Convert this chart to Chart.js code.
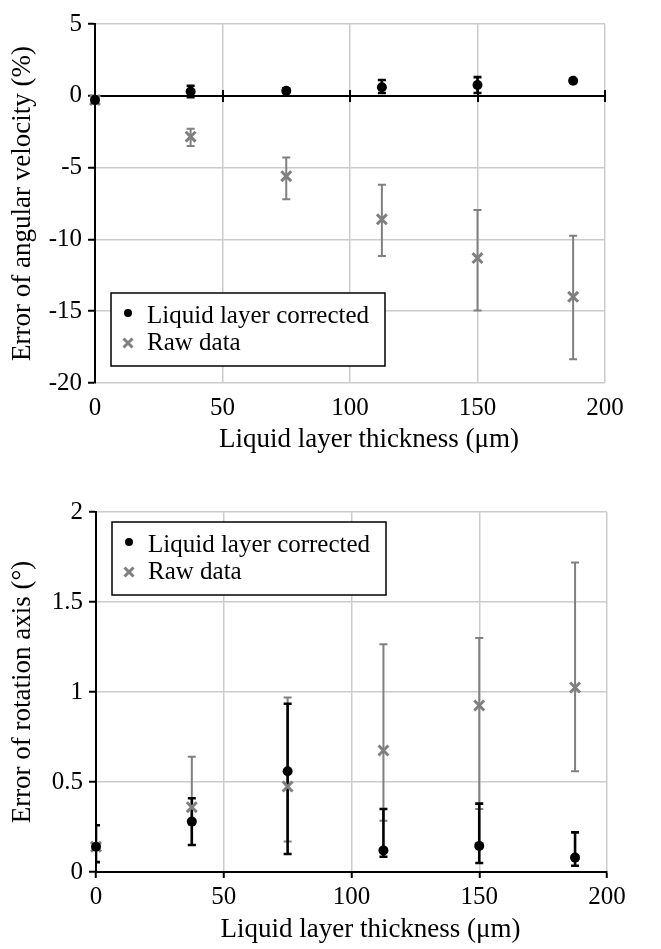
<!DOCTYPE html>
<html>
<head>
<meta charset="utf-8">
<script src="https://cdn.jsdelivr.net/npm/chart.js@4.4.1/dist/chart.umd.min.js"></script>
<style>
  html, body { margin: 0; padding: 0; background: #fff; }
  #wrap { position: relative; width: 661px; height: 949px; }
  .box { position: absolute; left: 0; width: 661px; }
</style>
</head>
<body>
<div id="wrap">
  <div class="box" style="top:0;height:470px"><canvas id="velChart"></canvas></div>
  <div class="box" style="top:470px;height:479px"><canvas id="rotChart"></canvas></div>
</div>
<script>
// liquid layer thickness (um)
const thickness = [0, 37.5, 75, 112.5, 150, 187.5];

// error of angular velocity (%)
const velCorrected     = [-0.3, 0.3, 0.35, 0.6, 0.75, 1.05];
const velCorrectedLow  = [-0.3, -0.1, 0.2, 0.2, 0.2, 0.95];
const velCorrectedHigh = [-0.3, 0.7, 0.5, 1.1, 1.3, 1.15];
const velRaw     = [-0.3, -2.85, -5.6, -8.6, -11.3, -14.0];
const velRawLow  = [-0.5, -3.5, -7.2, -11.15, -14.95, -18.35];
const velRawHigh = [-0.1, -2.3, -4.3, -6.2, -7.95, -9.75];

// error of rotation axis (deg)
const rotCorrected     = [0.14, 0.28, 0.56, 0.12, 0.145, 0.08];
const rotCorrectedLow  = [0.055, 0.15, 0.10, 0.085, 0.05, 0.035];
const rotCorrectedHigh = [0.26, 0.41, 0.935, 0.35, 0.38, 0.22];
const rotRaw     = [0.14, 0.36, 0.475, 0.675, 0.925, 1.025];
const rotRawLow  = [0.14, 0.15, 0.17, 0.285, 0.35, 0.56];
const rotRawHigh = [0.14, 0.64, 0.97, 1.265, 1.30, 1.72];

const seriesNames = ['Liquid layer corrected', 'Raw data'];
const xTitle = 'Liquid layer thickness (\u03bcm)';

const BLACK = '#000000';
const GRAY = '#808080';
const GRID = '#cccccc';
const SERIF = '"Liberation Serif", "Times New Roman", serif';

Chart.defaults.font.family = SERIF;
Chart.defaults.color = BLACK;

const pts = ys => thickness.map((x, i) => ({ x: x, y: ys[i] }));

// error bars, drawn under the markers; raw first so black bars stay on top
const errorBars = {
  id: 'errorBars',
  beforeDatasetsDraw(chart) {
    const { ctx, chartArea: ca, scales: { x, y } } = chart;
    ctx.save();
    ctx.beginPath();
    ctx.rect(ca.left, ca.top, ca.width, ca.height);
    ctx.clip();
    const sets = chart.data.datasets;
    for (let d = sets.length - 1; d >= 0; d--) {
      const ds = sets[d];
      ctx.strokeStyle = ds.errColor;
      ctx.lineWidth = ds.errWidth;
      thickness.forEach((t, i) => {
        const px = x.getPixelForValue(t);
        const lo = y.getPixelForValue(ds.errLow[i]);
        const hi = y.getPixelForValue(ds.errHigh[i]);
        if (Math.abs(lo - hi) < 1) return;
        ctx.beginPath();
        ctx.moveTo(px, lo); ctx.lineTo(px, hi);
        ctx.moveTo(px - 4, lo); ctx.lineTo(px + 4, lo);
        ctx.moveTo(px - 4, hi); ctx.lineTo(px + 4, hi);
        ctx.stroke();
      });
    }
    ctx.restore();
  }
};

// horizontal axis line crossing at y = 0 (top chart)
const zeroAxis = {
  id: 'zeroAxis',
  beforeDatasetsDraw(chart, args, opts) {
    if (!opts.show) return;
    const { ctx, chartArea: ca, scales: { x, y } } = chart;
    const y0 = Math.round(y.getPixelForValue(0));
    ctx.save();
    ctx.strokeStyle = BLACK;
    ctx.lineWidth = 2;
    ctx.beginPath();
    ctx.moveTo(ca.left, y0); ctx.lineTo(ca.right, y0);
    x.ticks.forEach(t => {
      const px = Math.round(x.getPixelForValue(t.value));
      ctx.moveTo(px, y0 - 6); ctx.lineTo(px, y0 + 6);
    });
    ctx.stroke();
    ctx.restore();
  }
};

// x axis title, set a little right of the plot centre like the original
const xAxisTitle = {
  id: 'xAxisTitle',
  afterDraw(chart, args, opts) {
    const { ctx, chartArea: ca } = chart;
    ctx.save();
    ctx.font = '27px ' + SERIF;
    ctx.fillStyle = BLACK;
    ctx.textAlign = 'center';
    ctx.textBaseline = 'alphabetic';
    ctx.fillText(xTitle, (ca.left + ca.right) / 2 + 19, ca.bottom + opts.dy);
    ctx.restore();
  }
};

// boxed legend inside the plot area
const legendBox = {
  id: 'legendBox',
  afterDatasetsDraw(chart, args, opts) {
    const { ctx, chartArea: ca } = chart;
    const w = 274, h = 73;
    const bx = ca.left + 16;
    const by = opts.corner === 'top' ? ca.top + 10 : ca.bottom - 17 - h;
    ctx.save();
    ctx.fillStyle = '#fff';
    ctx.fillRect(bx, by, w, h);
    ctx.strokeStyle = BLACK;
    ctx.lineWidth = 1.5;
    ctx.strokeRect(bx, by, w, h);
    ctx.font = '25px ' + SERIF;
    ctx.textBaseline = 'alphabetic';
    ctx.fillStyle = BLACK;
    const mx = bx + 17;
    ctx.beginPath();
    ctx.arc(mx, by + 20, 4, 0, Math.PI * 2);
    ctx.fill();
    ctx.fillText(seriesNames[0], bx + 36, by + 30);
    ctx.strokeStyle = GRAY;
    ctx.lineWidth = 3;
    ctx.beginPath();
    ctx.moveTo(mx - 4.5, by + 45.5); ctx.lineTo(mx + 4.5, by + 54.5);
    ctx.moveTo(mx + 4.5, by + 45.5); ctx.lineTo(mx - 4.5, by + 54.5);
    ctx.stroke();
    ctx.fillText(seriesNames[1], bx + 36, by + 57);
    ctx.restore();
  }
};

function makeChart(id, cfg) {
  return new Chart(document.getElementById(id), {
    type: 'scatter',
    data: {
      datasets: [{
        label: seriesNames[0],
        data: pts(cfg.corrected),
        errLow: cfg.correctedLow,
        errHigh: cfg.correctedHigh,
        errColor: BLACK,
        errWidth: 2.6,
        pointStyle: 'circle',
        pointRadius: 5,
        pointBackgroundColor: BLACK,
        pointBorderColor: BLACK,
        pointBorderWidth: 0,
        clip: false
      }, {
        label: seriesNames[1],
        data: pts(cfg.raw),
        errLow: cfg.rawLow,
        errHigh: cfg.rawHigh,
        errColor: GRAY,
        errWidth: 2,
        pointStyle: 'crossRot',
        pointRadius: 7,
        pointBorderColor: GRAY,
        pointBorderWidth: 3,
        clip: false
      }]
    },
    options: {
      responsive: true,
      maintainAspectRatio: false,
      animation: false,
      layout: { padding: cfg.padding },
      plugins: {
        legend: { display: false },
        tooltip: { enabled: false },
        zeroAxis: { show: cfg.zeroAxis },
        legendBox: { corner: cfg.legendCorner },
        xAxisTitle: { dy: cfg.xTitleDy }
      },
      scales: {
        x: {
          type: 'linear',
          min: 0, max: 200,
          ticks: { stepSize: 50, font: { size: 25 }, color: BLACK, padding: cfg.xTickPad },
          grid: {
            color: c => (c.tick && c.tick.value === 0 ? 'rgba(0,0,0,0)' : GRID),
            lineWidth: 1.5,
            drawTicks: !cfg.zeroAxis,
            tickLength: 6,
            tickColor: BLACK,
            tickWidth: 2
          },
          border: { display: !cfg.zeroAxis, color: BLACK, width: 2 },
          title: { display: false },
          afterFit: s => { s.height = cfg.xHeight; }
        },
        y: {
          min: cfg.yMin, max: cfg.yMax,
          ticks: {
            stepSize: cfg.yStep, font: { size: 25 }, color: BLACK, padding: 6,
            callback: v => String(v)
          },
          grid: {
            color: c => (!cfg.zeroAxis && c.tick && c.tick.value === 0 ? 'rgba(0,0,0,0)' : GRID),
            lineWidth: 1.5,
            tickLength: 7,
            tickColor: BLACK,
            tickWidth: 2
          },
          border: { color: BLACK, width: 2 },
          title: {
            display: true, text: cfg.yTitle, color: BLACK,
            font: { size: 27 }, padding: { top: 7, bottom: 0 }
          },
          afterFit: s => { s.width = cfg.yWidth; }
        }
      }
    },
    plugins: [errorBars, zeroAxis, legendBox, xAxisTitle]
  });
}

makeChart('velChart', {
  corrected: velCorrected, correctedLow: velCorrectedLow, correctedHigh: velCorrectedHigh,
  raw: velRaw, rawLow: velRawLow, rawHigh: velRawHigh,
  yMin: -20, yMax: 5, yStep: 5,
  yTitle: 'Error of angular velocity (%)',
  padding: { left: 0, top: 24, right: 56, bottom: 0 },
  yWidth: 95, xHeight: 87, xTickPad: 10, xTitleDy: 64,
  zeroAxis: true, legendCorner: 'bottom'
});

makeChart('rotChart', {
  corrected: rotCorrected, correctedLow: rotCorrectedLow, correctedHigh: rotCorrectedHigh,
  raw: rotRaw, rawLow: rotRawLow, rawHigh: rotRawHigh,
  yMin: 0, yMax: 2, yStep: 0.5,
  yTitle: 'Error of rotation axis (\u00b0)',
  padding: { left: 0, top: 42, right: 54, bottom: 0 },
  yWidth: 96, xHeight: 77, xTickPad: 4, xTitleDy: 65,
  zeroAxis: false, legendCorner: 'top'
});
</script>
</body>
</html>
